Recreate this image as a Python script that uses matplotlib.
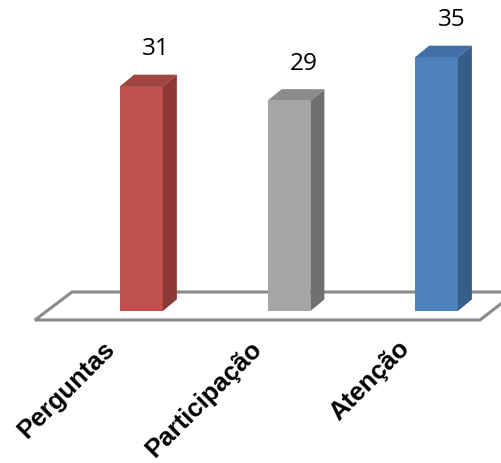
import matplotlib
matplotlib.use("Agg")
import matplotlib.pyplot as plt
from matplotlib.patches import Polygon

categories = ["Perguntas", "Participação", "Atenção"]
values = [31, 29, 35]

front_colors = ["#C0504D", "#A5A5A5", "#4F81BD"]
top_colors = ["#A04440", "#8C8C8C", "#4270A6"]
side_colors = ["#8C3836", "#707070", "#385D8A"]

W, H = 502, 463
fig = plt.figure(figsize=(W / 100, H / 100), dpi=100)
ax = fig.add_axes([0, 0, 1, 1])
ax.set_xlim(-0.959, 2.444)
ax.set_ylim(-20.97, 42.9)
ax.axis("off")

# 3-D depth offsets (in axis units)
bar_w = 0.29
ddx, ddy = 0.095, 1.6

# floor parallelogram
floor = Polygon([(-0.722, -1.24), (2.295, -1.24), (2.54, 2.62), (-0.471, 2.62)],
                closed=True, facecolor="white", edgecolor="#8A8A8A", lw=2.2, zorder=1)
ax.add_patch(floor)

xs = list(range(len(categories)))
ax.bar(xs, values, width=bar_w, color=front_colors, zorder=3, linewidth=0)

for x, v, tc, sc in zip(xs, values, top_colors, side_colors):
    l, r = x - bar_w / 2, x + bar_w / 2
    side = Polygon([(r, 0), (r + ddx, ddy), (r + ddx, v + ddy), (r, v)],
                   closed=True, facecolor=sc, edgecolor="none", zorder=3)
    top = Polygon([(l, v), (r, v), (r + ddx, v + ddy), (l + ddx, v + ddy)],
                  closed=True, facecolor=tc, edgecolor="none", zorder=3)
    ax.add_patch(side)
    ax.add_patch(top)
    ax.text(x + 0.1, v + 5.1, f"{v}", ha="center", va="center",
            fontsize=17.5, family="Open Sans", color="black")

for x, c in zip(xs, categories):
    ax.text(x - 0.265, -3.5, c, rotation=45, rotation_mode="anchor",
            ha="right", va="top", fontsize=18.5, fontweight="bold",
            family="Liberation Sans", color="black")

fig.savefig("out.png", dpi=100)
